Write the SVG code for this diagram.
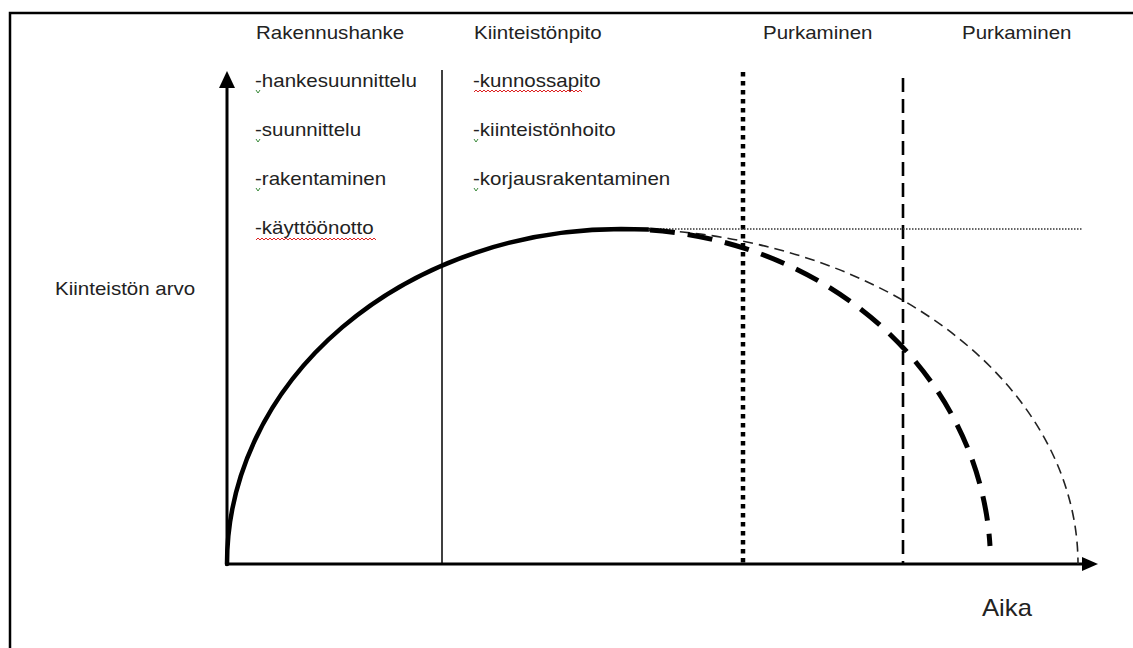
<svg xmlns="http://www.w3.org/2000/svg" width="1133" height="648" viewBox="0 0 1133 648">
<style>
  text { font-family: "Liberation Sans", Arial, sans-serif; font-size: 18px; fill: #222; }
  .big { font-size: 24px; }
  .axis { stroke: #000; stroke-width: 3; fill: none; }
  .thin { stroke: #000; stroke-width: 1.5; fill: none; }
  .solid { stroke: #000; stroke-width: 4.5; fill: none; stroke-linecap: round; }
  .thickdash { stroke: #000; stroke-width: 5; fill: none; stroke-dasharray: 25 13; }
  .thindash { stroke: #222; stroke-width: 1.6; fill: none; stroke-dasharray: 10 6; }
  .dotv { stroke: #000; stroke-width: 4.5; fill: none; stroke-dasharray: 4.5 4.5; }
  .dashv { stroke: #000; stroke-width: 2.6; fill: none; stroke-dasharray: 14 7; }
  .doth { stroke: #333; stroke-width: 1.5; fill: none; stroke-dasharray: 1.5 1.5; }
  .wavy { stroke: #d22; stroke-width: 1; fill: none; }
  .chk { stroke: #3a8a3a; stroke-width: 1; fill: none; }
</style>
<rect x="0" y="0" width="1133" height="648" fill="#fff"/>
<g id="frame">
  <path d="M10,648 L10,13 L1133,13" stroke="#000" stroke-width="2.5" fill="none"/>
</g>
<g id="axes">
  <line class="axis" x1="227" y1="565" x2="227" y2="86"/>
  <polygon points="227,71 219,88 235,88" fill="#000"/>
  <line class="axis" x1="225" y1="564" x2="1085" y2="564"/>
  <polygon points="1098,564 1082,557 1082,571" fill="#000"/>
</g>
<g id="connectors">
  <line class="thin" x1="442" y1="70" x2="442" y2="564"/>
  <line class="dotv" x1="743" y1="72" x2="743" y2="564"/>
  <line class="dashv" x1="903" y1="78" x2="903" y2="564"/>
  <line class="doth" x1="648" y1="229" x2="1083" y2="229"/>
  <path class="solid" d="M227,564 A394,335 0 0 1 621,229 L648,229.6"/>
  <path class="thindash" d="M648,229.6 A457,335 0 0 1 1078,564"/>
  <path class="thickdash" d="M650,230 A370,335 0 0 1 990,546"/>
</g>
<g id="label-yaxis">
  <text transform="translate(55,295) scale(1.14,1)">Kiinteistön arvo</text>
</g>
<g id="label-xaxis">
  <text class="big" transform="translate(982,616) scale(1.07,1)">Aika</text>
</g>
<g id="phase-rakennushanke">
  <text transform="translate(256,39) scale(1.14,1)">Rakennushanke</text>
  <text transform="translate(255,87) scale(1.14,1)">-hankesuunnittelu</text>
  <text transform="translate(255,136) scale(1.14,1)">-suunnittelu</text>
  <text transform="translate(255,185) scale(1.14,1)">-rakentaminen</text>
  <text transform="translate(255,234) scale(1.14,1)">-käyttöönotto</text>
  <path class="chk" d="M256,90 l2,3 l2,-3 M256,139 l2,3 l2,-3 M256,188 l2,3 l2,-3"/>
  <path class="wavy" d="M256,240 l2,-2 l2,2 l2,-2 l2,2 l2,-2 l2,2 l2,-2 l2,2 l2,-2 l2,2 l2,-2 l2,2 l2,-2 l2,2 l2,-2 l2,2 l2,-2 l2,2 l2,-2 l2,2 l2,-2 l2,2 l2,-2 l2,2 l2,-2 l2,2 l2,-2 l2,2 l2,-2 l2,2 l2,-2 l2,2 l2,-2 l2,2 l2,-2 l2,2 l2,-2 l2,2 l2,-2 l2,2 l2,-2 l2,2 l2,-2 l2,2 l2,-2 l2,2 l2,-2 l2,2 l2,-2 l2,2 l2,-2 l2,2 l2,-2 l2,2 l2,-2 l2,2 l2,-2 l2,2 l2,-2 l2,2"/>
</g>
<g id="phase-kiinteistonpito">
  <text transform="translate(474,39) scale(1.14,1)">Kiinteistönpito</text>
  <text transform="translate(473,87) scale(1.14,1)">-kunnossapito</text>
  <text transform="translate(473,136) scale(1.14,1)">-kiinteistönhoito</text>
  <text transform="translate(473,185) scale(1.14,1)">-korjausrakentaminen</text>
  <path class="chk" d="M474,139 l2,3 l2,-3 M474,188 l2,3 l2,-3"/>
  <path class="wavy" d="M474,92 l2,-2 l2,2 l2,-2 l2,2 l2,-2 l2,2 l2,-2 l2,2 l2,-2 l2,2 l2,-2 l2,2 l2,-2 l2,2 l2,-2 l2,2 l2,-2 l2,2 l2,-2 l2,2 l2,-2 l2,2 l2,-2 l2,2 l2,-2 l2,2 l2,-2 l2,2 l2,-2 l2,2 l2,-2 l2,2 l2,-2 l2,2 l2,-2 l2,2 l2,-2 l2,2 l2,-2 l2,2 l2,-2 l2,2 l2,-2 l2,2 l2,-2 l2,2 l2,-2 l2,2 l2,-2 l2,2 l2,-2 l2,2 l2,-2 l2,2"/>
</g>
<g id="phase-purkaminen-1">
  <text transform="translate(763,39) scale(1.14,1)">Purkaminen</text>
</g>
<g id="phase-purkaminen-2">
  <text transform="translate(962,39) scale(1.14,1)">Purkaminen</text>
</g>
</svg>
